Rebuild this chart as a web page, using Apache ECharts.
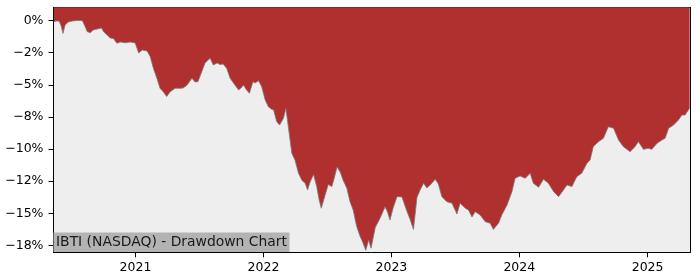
<!DOCTYPE html>
<html>
<head>
<meta charset="utf-8">
<script src="https://cdn.jsdelivr.net/npm/echarts@6/dist/echarts.min.js"></script>
<style>
html,body{margin:0;padding:0;background:#fff;}
#chart{width:700px;height:280px;}
</style>
</head>
<body>
<div id="chart"></div>
<script>
const dates = [
'2020-05-13','2020-05-20','2020-05-28','2020-06-03','2020-06-08','2020-06-14','2020-06-23','2020-07-04','2020-07-18','2020-08-02',
'2020-08-06','2020-08-12','2020-08-16','2020-08-25','2020-09-02','2020-09-14','2020-09-26','2020-10-02','2020-10-12','2020-10-21',
'2020-10-30','2020-11-09','2020-11-18','2020-12-03','2020-12-17','2020-12-31','2021-01-10','2021-01-20','2021-02-03','2021-02-12',
'2021-02-21','2021-03-03','2021-03-12','2021-03-21','2021-03-31','2021-04-10','2021-04-24','2021-05-08','2021-05-17','2021-05-28',
'2021-06-11','2021-06-20','2021-06-28','2021-07-09','2021-07-18','2021-07-27','2021-08-02','2021-08-11','2021-08-22','2021-08-30',
'2021-09-08','2021-09-18','2021-09-28','2021-10-08','2021-10-22','2021-10-29','2021-11-05','2021-11-14','2021-11-22','2021-12-02',
'2021-12-08','2021-12-18','2021-12-27','2022-01-06','2022-01-15','2022-01-23','2022-01-30','2022-02-08','2022-02-16','2022-02-27',
'2022-03-06','2022-03-13','2022-03-23','2022-04-01','2022-04-11','2022-04-21','2022-04-30','2022-05-07','2022-05-14','2022-05-24',
'2022-06-02','2022-06-09','2022-06-15','2022-06-26','2022-07-05','2022-07-15','2022-07-22','2022-07-30','2022-08-08','2022-08-16',
'2022-08-27','2022-09-05','2022-09-14','2022-09-24','2022-10-04','2022-10-11','2022-10-20','2022-10-28','2022-11-04','2022-11-16',
'2022-11-30','2022-12-14','2022-12-21','2022-12-28','2023-01-06','2023-01-17','2023-01-31','2023-02-14','2023-02-24','2023-03-05',
'2023-03-15','2023-03-24','2023-04-03','2023-04-12','2023-04-22','2023-05-06','2023-05-15','2023-05-25','2023-06-08','2023-06-23',
'2023-07-07','2023-07-16','2023-07-31','2023-08-09','2023-08-19','2023-08-28','2023-09-11','2023-09-26','2023-10-10','2023-10-19',
'2023-11-03','2023-11-12','2023-11-27','2023-12-11','2023-12-20','2024-01-03','2024-01-18','2024-02-01','2024-02-10','2024-02-25',
'2024-03-10','2024-03-24','2024-04-08','2024-04-22','2024-05-06','2024-05-16','2024-05-30','2024-06-13','2024-06-27','2024-07-12',
'2024-07-21','2024-07-30','2024-08-14','2024-08-28','2024-09-11','2024-09-26','2024-10-10','2024-10-24','2024-11-12','2024-11-26',
'2024-12-06','2024-12-20','2025-01-03','2025-01-13','2025-01-28','2025-02-11','2025-02-20','2025-03-02','2025-03-16','2025-03-30',
'2025-04-09','2025-04-18','2025-05-01'
];
const drawdown = [
-0.08,-0.04,-0.04,-0.43,-1.00,-0.35,-0.12,-0.04,0.00,0.00,
-0.22,-0.58,-0.86,-0.95,-0.74,-0.66,-0.58,-0.87,-1.13,-1.36,
-1.40,-1.77,-1.67,-1.73,-1.67,-1.75,-2.53,-2.29,-2.37,-2.81,
-3.72,-4.49,-5.27,-5.54,-5.91,-5.54,-5.27,-5.27,-5.25,-5.02,
-4.49,-4.78,-4.76,-3.98,-3.33,-3.07,-2.94,-3.46,-3.30,-3.42,
-3.38,-3.72,-4.49,-4.88,-5.40,-5.25,-5.02,-5.40,-5.66,-4.76,
-4.86,-4.68,-5.15,-6.18,-6.70,-6.88,-6.96,-7.87,-8.13,-7.61,
-6.83,-8.26,-10.33,-10.85,-11.88,-12.44,-12.66,-13.18,-12.56,-11.98,
-12.92,-13.96,-14.60,-13.57,-12.75,-12.92,-12.25,-11.39,-11.78,-12.40,
-13.05,-14.09,-14.74,-16.03,-16.81,-17.22,-17.88,-17.07,-17.71,-16.10,
-15.36,-14.48,-14.89,-15.51,-14.58,-13.70,-13.72,-14.81,-15.51,-16.25,
-13.76,-13.18,-12.66,-13.02,-12.79,-12.35,-12.71,-13.70,-14.09,-14.21,
-15.05,-14.21,-14.60,-14.74,-15.28,-14.87,-15.12,-15.65,-15.77,-16.25,
-15.75,-15.12,-14.35,-13.31,-12.27,-12.09,-12.27,-11.88,-12.66,-12.97,
-12.35,-12.66,-13.31,-13.70,-13.18,-12.79,-12.92,-12.15,-11.88,-11.10,
-10.85,-9.81,-9.42,-9.16,-8.26,-8.38,-9.29,-9.81,-10.20,-9.81,
-9.42,-10.02,-9.94,-10.02,-9.55,-9.29,-9.16,-8.38,-8.13,-7.74,
-7.35,-7.35,-6.80
];
const yTickValues = [0, -2.5, -5, -7.5, -10, -12.5, -15, -17.5];
const yTickLabels = ['0%', '\u22122%', '\u22125%', '\u22128%', '\u221210%', '\u221212%', '\u221215%', '\u221218%'];
const xTickYears = [2021, 2022, 2023, 2024, 2025];
const titleText = 'IBTI (NASDAQ) - Drawdown Chart';

function ts(s) { const p = s.split('-').map(Number); return Date.UTC(p[0], p[1] - 1, p[2]); }
const xTickValues = xTickYears.map(y => Date.UTC(y, 0, 1));
const seriesData = dates.map((d, i) => [ts(d), drawdown[i]]);
const xMin = Date.UTC(2020, 4, 12);
const xMax = Date.UTC(2025, 4, 2);
const yMin = -18.03, yMax = 1.03;
const font = 'DejaVu Sans';

const chart = echarts.init(document.getElementById('chart'), null, {renderer: 'canvas'});
chart.setOption({
  animation: false,
  backgroundColor: '#ffffff',
  title: {
    text: titleText,
    left: 53.5,
    top: 232.5,
    padding: [2, 2.5, 2, 2.5],
    backgroundColor: '#b3b3b3',
    textStyle: {fontFamily: font, fontSize: 13.9, fontWeight: 'normal', color: '#1a1a1a', lineHeight: 15.6}
  },
  grid: {
    left: 53.5, right: 10, top: 7.3, bottom: 27.7,
    show: true, backgroundColor: '#eeeeee', borderWidth: 0
  },
  xAxis: [{
    type: 'value', min: xMin, max: xMax,
    axisLine: {show: true, onZero: false, lineStyle: {color: '#000', width: 1}},
    axisTick: {show: true, length: 5, lineStyle: {color: '#000'}, customValues: xTickValues},
    axisLabel: {
      show: true, margin: 9, color: '#000', fontFamily: font, fontSize: 12.5,
      customValues: xTickValues,
      formatter: v => String(new Date(v).getUTCFullYear())
    },
    splitLine: {show: false}
  }, {
    type: 'value', min: xMin, max: xMax, position: 'top',
    axisLine: {show: true, onZero: false, lineStyle: {color: '#000', width: 1}},
    axisTick: {show: false}, axisLabel: {show: false}, splitLine: {show: false}
  }],
  yAxis: [{
    type: 'value', min: yMin, max: yMax,
    axisLine: {show: true, onZero: false, lineStyle: {color: '#000', width: 1}},
    axisTick: {show: true, length: 5, lineStyle: {color: '#000'}, customValues: yTickValues},
    axisLabel: {
      show: true, margin: 10, color: '#000', fontFamily: font, fontSize: 12.5,
      customValues: yTickValues,
      formatter: v => {
        const i = yTickValues.findIndex(t => Math.abs(t - v) < 1e-6);
        return i >= 0 ? yTickLabels[i] : '';
      }
    },
    splitLine: {show: false}
  }, {
    type: 'value', min: yMin, max: yMax, position: 'right',
    axisLine: {show: true, onZero: false, lineStyle: {color: '#000', width: 1}},
    axisTick: {show: false}, axisLabel: {show: false}, splitLine: {show: false}
  }],
  series: [{
    type: 'line',
    xAxisIndex: 0, yAxisIndex: 0,
    data: seriesData,
    showSymbol: false,
    symbol: 'none',
    smooth: false,
    lineStyle: {color: '#7a7a7a', width: 0.8},
    areaStyle: {origin: 'end', color: '#b03030', opacity: 1},
    z: 2
  }]
});
</script>
</body>
</html>
